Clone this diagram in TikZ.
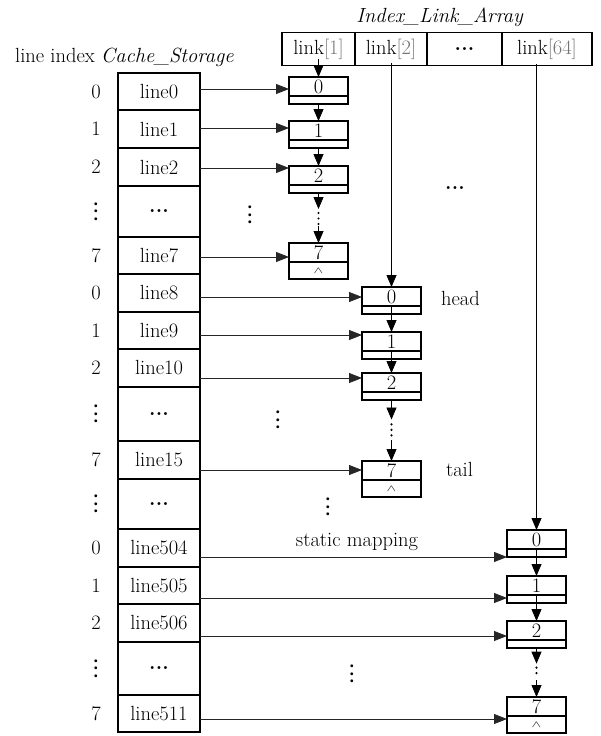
\documentclass[tikz,border=0pt]{standalone}
\usetikzlibrary{arrows.meta,calc}

% ellipsis built from bold periods; set upright for the vertical form
\newcommand\hdotz{{\bfseries .\kern0.2pt.\kern0.2pt.}}
\newcommand\vdotz{{\bfseries .\kern1.2pt.\kern1.2pt.}}
% null marker of the last list element
\newcommand\nullmark{\scalebox{1}[0.65]{$\scriptstyle\wedge$}}

% one list element: name, x, top edge, key
\newcommand\chainelem[4]{%
  \node[elemtop] (#1) at (#2,#3+9.5) {#4};
  \node[elembot] (#1b) at (#1.south) {};}
% last list element, with the null marker below
\newcommand\chaintail[4]{%
  \node[elemtop] (#1) at (#2,#3+9.5) {#4};
  \node[elembot=17pt] (#1b) at (#1.south) {\nullmark};}
% elided part of a list between two elements
\newcommand\chainjump[2]{%
  \draw[vlink] (#1.south) -- ($(#1.south)!0.32!(#2.north)$);
  \draw[dotline] ($(#1.south)!0.4!(#2.north)$) -- ($(#1.south)!0.62!(#2.north)$);
  \draw[vlink] ($(#1.south)!0.66!(#2.north)$) -- (#2.north);}

\begin{document}
\begin{tikzpicture}[x=1pt,y=-1pt,
  font=\fontsize{20.5}{24}\selectfont,
  rowcell/.style={draw,line width=1.2pt,minimum width=82pt,inner sep=0pt,outer sep=0pt},
  linkcell/.style={draw,line width=1.2pt,minimum height=33.5pt,inner sep=0pt,outer sep=0pt},
  elemtop/.style={draw,line width=1.1pt,minimum width=59pt,minimum height=19pt,inner sep=0pt,outer sep=0pt},
  elembot/.style={draw,line width=1.1pt,minimum width=59pt,minimum height=#1,inner sep=0pt,outer sep=0pt,anchor=north},
  elembot/.default=8pt,
  vlink/.style={-{Triangle[length=12pt,width=10pt]},line width=0.8pt},
  hlink/.style={-{Triangle[length=13pt,width=10pt]},line width=0.8pt,black!85},
  dotline/.style={line width=2.4pt,line cap=round,dash pattern=on 0pt off 5.5pt},
  vdots/.style={rotate=90,inner sep=0pt},
]
\useasboundingbox (0,0) rectangle (601,736);

% ---- headings
\node[anchor=base west,inner sep=0pt] (hdrL) at (15,62) {line index \textit{Cache\_Storage}};
\node[anchor=base,inner sep=0pt] (hdrR) at (440,23) {\textit{Index\_Link\_Array}};

% ---- cache storage column
\node[rowcell,minimum height=37pt] (l0)   at (159,91.5)  {line0};
\node[rowcell,minimum height=38pt] (l1)   at (159,129)   {line1};
\node[rowcell,minimum height=38pt] (l2)   at (159,167)   {line2};
\node[rowcell,minimum height=51pt] (d1)   at (159,211.5) {\hdotz};
\node[rowcell,minimum height=37pt] (l7)   at (159,255.5) {line7};
\node[rowcell,minimum height=38pt] (l8)   at (159,293)   {line8};
\node[rowcell,minimum height=37pt] (l9)   at (159,330.5) {line9};
\node[rowcell,minimum height=38pt] (l10)  at (159,368)   {line10};
\node[rowcell,minimum height=54pt] (d2)   at (159,414)   {\hdotz};
\node[rowcell,minimum height=38pt] (l15)  at (159,460)   {line15};
\node[rowcell,minimum height=50pt] (d3)   at (159,504)   {\hdotz};
\node[rowcell,minimum height=38pt] (l504) at (159,548)   {line504};
\node[rowcell,minimum height=37pt] (l505) at (159,585.5) {line505};
\node[rowcell,minimum height=38pt] (l506) at (159,623)   {line506};
\node[rowcell,minimum height=53pt] (d4)   at (159,668.5) {\hdotz};
\node[rowcell,minimum height=37pt] (l511) at (159,713.5) {line511};

% ---- line index labels
\node (i0)   at (96,91.5)  {0};
\node (i1)   at (96,129)   {1};
\node (i2)   at (96,167)   {2};
\node[vdots] (id1) at (96,211.5) {\vdotz};
\node (i7)   at (96,255.5) {7};
\node (i8)   at (96,293)   {0};
\node (i9)   at (96,330.5) {1};
\node (i10)  at (96,368)   {2};
\node[vdots] (id2) at (96,414) {\vdotz};
\node (i15)  at (96,460)   {7};
\node[vdots] (id3) at (96,504) {\vdotz};
\node (i504) at (96,548)   {0};
\node (i505) at (96,585.5) {1};
\node (i506) at (96,623)   {2};
\node[vdots] (id4) at (96,668.5) {\vdotz};
\node (i511) at (96,713.5) {7};

% ---- index link array
\node[linkcell,minimum width=73pt] (k1)  at (318.5,49) {link{\color{black!55}[1]}};
\node[linkcell,minimum width=72pt] (k2)  at (391,49)   {link{\color{black!55}[2]}};
\node[linkcell,minimum width=75pt] (kd)  at (464.5,49) {\hdotz};
\node[linkcell,minimum width=90pt] (k64) at (547,49)   {link{\color{black!55}[64]}};

% ---- linked lists
\chainelem{a0}{318.5}{77}{0}
\chainelem{a1}{318.5}{121}{1}
\chainelem{a2}{318.5}{166}{2}
\chaintail{a7}{318.5}{243}{7}

\chainelem{b0}{391.5}{287}{0}
\chainelem{b1}{391.5}{332}{1}
\chainelem{b2}{391.5}{373}{2}
\chaintail{b7}{391.5}{461}{7}

\chainelem{c0}{536.5}{530}{0}
\chainelem{c1}{536.5}{576}{1}
\chainelem{c2}{536.5}{621}{2}
\chaintail{c7}{536.5}{697}{7}

% ---- list heads from the link array
\draw[vlink] ($(a0.north |- k1.south)+(0,-7)$) -- (a0.north);
\draw[vlink] ($(b0.north |- k2.south)+(0,-3)$) -- (b0.north);
\draw[vlink] ($(c0.north |- k64.south)+(0,-2)$) -- (c0.north);

% ---- next pointers
\draw[vlink] (a0b.south) -- (a1.north);
\draw[vlink] (a1b.south) -- (a2.north);
\chainjump{a2b}{a7}
\draw[vlink] (b0.south) -- (b1.north);
\draw[vlink] (b1.south) -- (b2.north);
\chainjump{b2b}{b7}
\draw[vlink] (c0.south) -- (c1.north);
\draw[vlink] (c1.south) -- (c2.north);
\chainjump{c2b}{c7}

% ---- static mapping of cache lines to list elements
\draw[hlink] (l0.east |- 0,89)    -- (a0.west |- 0,89);
\draw[hlink] (l1.east |- 0,128)   -- (a1.west |- 0,128);
\draw[hlink] (l2.east |- 0,168)   -- (a2.west |- 0,168);
\draw[hlink] (l7.east |- 0,257)   -- (a7.west |- 0,257);
\draw[hlink] (l8.east |- 0,297)   -- (b0.west |- 0,297);
\draw[hlink] (l9.east |- 0,335)   -- (b1.west |- 0,335);
\draw[hlink] (l10.east |- 0,378)  -- (b2.west |- 0,378);
\draw[hlink] (l15.east |- 0,470)  -- (b7.west |- 0,470);
\draw[hlink] (l504.east |- 0,557) -- (c0b.west |- 0,557);
\draw[hlink] (l505.east |- 0,598) -- (c1b.west |- 0,598);
\draw[hlink] (l506.east |- 0,636) -- (c2.west |- 0,636);
\draw[hlink] (l511.east |- 0,719) -- (c7b.west |- 0,719);

% ---- annotations
\node (head) at (460.5,298.5) {head};
\node (tail) at (459.5,469.5) {tail};
\node[anchor=base,inner sep=0pt] (smap) at (357,546) {static mapping};
\node (more) at (455,188) {\hdotz};
\node[vdots] (v1) at (250,215) {\vdotz};
\node[vdots] (v2) at (278,420) {\vdotz};
\node[vdots] (v3) at (328,507) {\vdotz};
\node[vdots] (v4) at (352,674) {\vdotz};
\end{tikzpicture}
\end{document}
